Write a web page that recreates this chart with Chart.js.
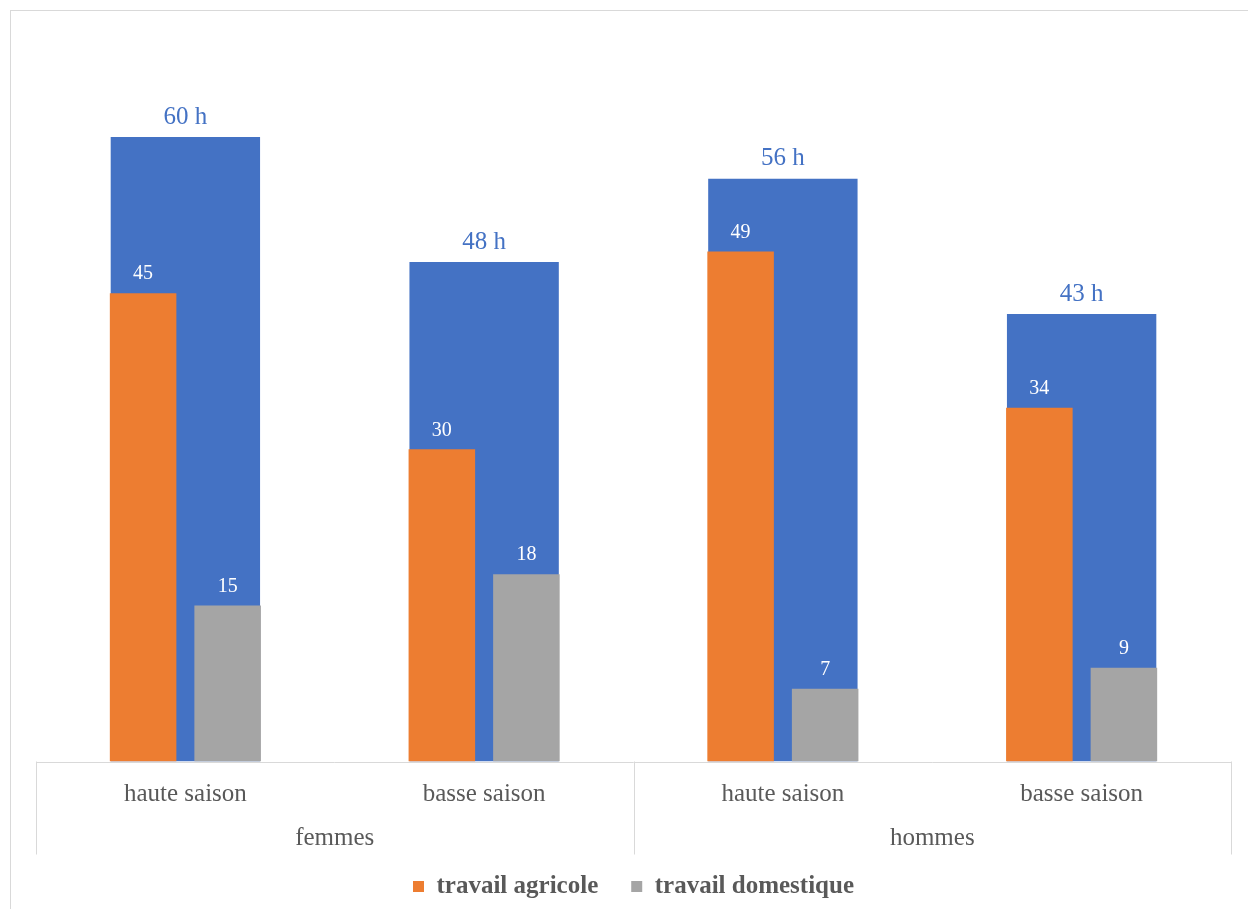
<!DOCTYPE html>
<html>
<head>
<meta charset="utf-8">
<script src="https://cdn.jsdelivr.net/npm/chart.js@4/dist/chart.umd.min.js"></script>
<style>
html,body{margin:0;padding:0;background:#fff;}
#wrap{width:1248px;height:909px;position:relative;}
</style>
</head>
<body>
<div id="wrap"><canvas id="c" width="1248" height="909"></canvas></div>
<script>
const categories = ["haute saison", "basse saison", "haute saison", "basse saison"];
const groups = ["femmes", "hommes"];
const groupSpan = [2, 2];
const totals = [60, 48, 56, 43];
const agricole = [45, 30, 49, 34];
const domestique = [15, 18, 7, 9];

const BLUE = "#4472C4", ORANGE = "#ED7D31", GRAY = "#A5A5A5";
const TEXT = "#595959", LINE = "#D9D9D9";
const SERIF = "'Liberation Serif', 'Times New Roman', serif";

const decor = {
  id: "decor",
  beforeDraw(chart) {
    const ctx = chart.ctx;
    ctx.save();
    ctx.strokeStyle = LINE;
    ctx.lineWidth = 1;
    ctx.strokeRect(10.5, 10.5, 1400, 1000);
    ctx.restore();
  },
  afterDraw(chart) {
    const ctx = chart.ctx;
    const xs = chart.scales.x;
    const area = chart.chartArea;
    const n = categories.length;
    const half = (xs.right - xs.left) / n / 2;
    ctx.save();
    ctx.strokeStyle = LINE;
    ctx.lineWidth = 1;
    // axis line
    ctx.beginPath();
    ctx.moveTo(xs.left, Math.round(area.bottom) + 0.5);
    ctx.lineTo(xs.right, Math.round(area.bottom) + 0.5);
    ctx.stroke();
    // group separators and labels
    const lineBottom = area.bottom + 93;
    let idx = 0;
    const bounds = [xs.getPixelForValue(0) - half];
    groups.forEach((g, gi) => {
      const start = idx, end = idx + groupSpan[gi] - 1;
      idx += groupSpan[gi];
      bounds.push(xs.getPixelForValue(end) + half);
      const cx = (xs.getPixelForValue(start) + xs.getPixelForValue(end)) / 2;
      ctx.fillStyle = TEXT;
      ctx.font = "25px " + SERIF;
      ctx.textAlign = "center";
      ctx.textBaseline = "middle";
      ctx.fillText(g, cx, area.bottom + 77);
    });
    bounds.forEach(b => {
      const x = Math.round(b) + 0.5;
      ctx.beginPath();
      ctx.moveTo(x, area.bottom);
      ctx.lineTo(x, lineBottom);
      ctx.stroke();
    });
    // value labels
    const metaT = chart.getDatasetMeta(0);
    const metaA = chart.getDatasetMeta(1);
    const metaD = chart.getDatasetMeta(2);
    ctx.textAlign = "center";
    ctx.textBaseline = "middle";
    ctx.font = "25px " + SERIF;
    ctx.fillStyle = BLUE;
    metaT.data.forEach((bar, i) => {
      ctx.fillText(totals[i] + " h", bar.x, bar.y - 20);
    });
    ctx.font = "20px " + SERIF;
    ctx.fillStyle = "#FFFFFF";
    metaA.data.forEach((bar, i) => {
      ctx.fillText(String(agricole[i]), bar.x, bar.y - 19);
    });
    metaD.data.forEach((bar, i) => {
      ctx.fillText(String(domestique[i]), bar.x, bar.y - 19);
    });
    ctx.restore();
  }
};

new Chart(document.getElementById("c"), {
  type: "bar",
  data: {
    labels: categories,
    datasets: [
      {
        label: "total",
        data: totals,
        backgroundColor: BLUE,
        grouped: false,
        barPercentage: 1,
        categoryPercentage: 0.5,
        order: 2
      },
      {
        label: "travail agricole",
        data: agricole,
        backgroundColor: ORANGE,
        barPercentage: 0.787,
        categoryPercentage: 0.566,
        order: 1
      },
      {
        label: "travail domestique",
        data: domestique,
        backgroundColor: GRAY,
        barPercentage: 0.787,
        categoryPercentage: 0.566,
        order: 1
      }
    ]
  },
  options: {
    responsive: false,
    animation: false,
    devicePixelRatio: 1,
    layout: { padding: { left: 36, right: 17, top: 33, bottom: 0 } },
    scales: {
      x: {
        type: "category",
        offset: true,
        grid: { display: false, drawTicks: false },
        border: { display: false },
        ticks: {
          color: TEXT,
          font: { family: SERIF, size: 25 },
          padding: 18,
          maxRotation: 0,
          autoSkip: false
        },
        afterFit(scale) { scale.height = 79.5; }
      },
      y: {
        display: false,
        min: 0,
        max: 70
      }
    },
    plugins: {
      legend: {
        position: "bottom",
        labels: {
          filter: item => item.datasetIndex !== 0,
          color: TEXT,
          font: { family: SERIF, size: 25, weight: "bold" },
          boxWidth: 11,
          boxHeight: 11,
          padding: 33
        }
      },
      tooltip: { enabled: false }
    }
  },
  plugins: [decor]
});
</script>
</body>
</html>
